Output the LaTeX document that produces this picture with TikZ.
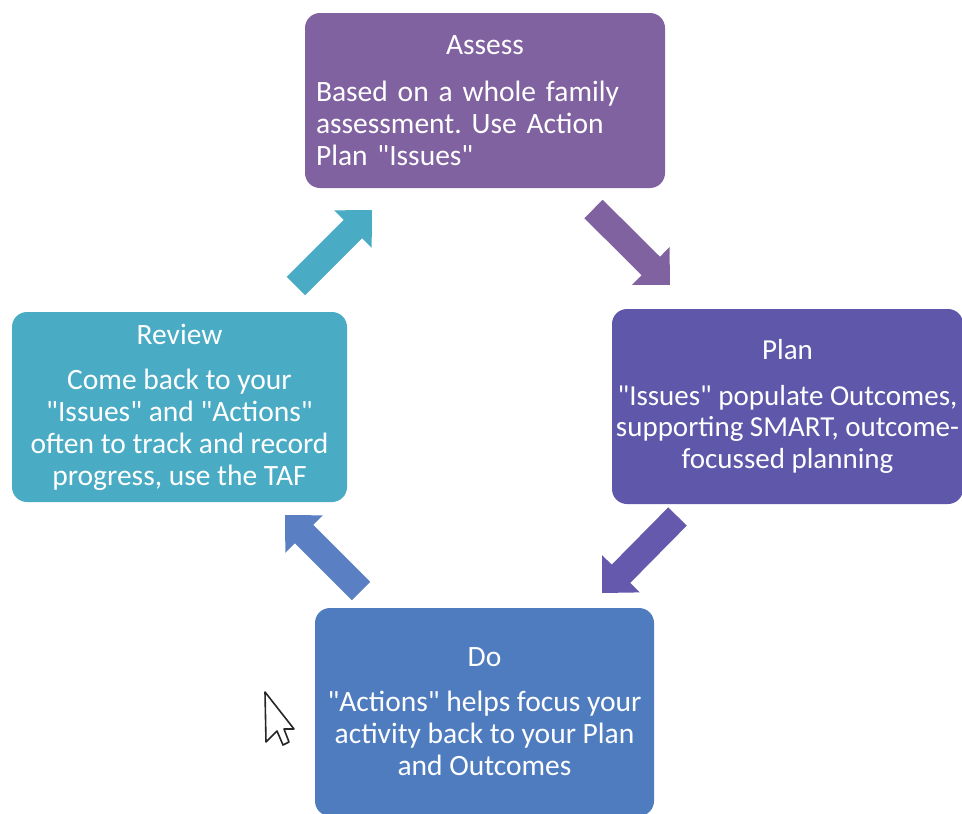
\documentclass[tikz,border=0pt]{standalone}
\usepackage{fontspec}
\setmainfont[Ligatures=TeXOff]{Carlito}
\usetikzlibrary{calc}
\frenchspacing
\definecolor{assesscol}{HTML}{8062A0}
\definecolor{plancol}{HTML}{5F58AA}
\definecolor{reviewcol}{HTML}{4AABC5}
\definecolor{docol}{HTML}{4F7CBE}
\definecolor{arrowtwo}{HTML}{6559AE}
\definecolor{arrowthree}{HTML}{5A7FC2}
\tikzset{
  stagebox/.style={rounded corners=15pt, inner xsep=2pt, inner ysep=4pt,
    text=white, align=center, font=\fontsize{29.5}{32}\selectfont},
}
\newcommand{\blockarrow}[3]{%
  \coordinate (#2h) at ($(#3)!27pt!(#2)$);
  \fill[#1] ($(#2)!13pt!90:(#3)$) -- ($(#2h)!13pt!90:(#3)$) -- ($(#2h)!26.5pt!90:(#3)$)
    -- (#3) -- ($(#2h)!26.5pt!-90:(#3)$) -- ($(#2h)!13pt!-90:(#3)$) -- ($(#2)!13pt!-90:(#3)$) -- cycle;
}
\begin{document}
\begin{tikzpicture}[x=1pt,y=-1pt]
\useasboundingbox (0,0) rectangle (962,814);
\clip (0,0) rectangle (962,814);
\fill[white] (0,0) rectangle (962,814);

% boxes
\node[stagebox, fill=assesscol, minimum width=360pt, minimum height=175pt,
      text width=338pt, align=left, inner xsep=11pt] (assess) at (485,100.5)
  {\centering Assess\par\vspace{15pt}\raggedright Based on a whole family\\ assessment. Use Action\\ Plan "Issues"};
\node[stagebox, fill=plancol, minimum width=351pt, minimum height=195pt,
      font=\fontsize{29}{31.5}\selectfont] (plan) at (787.5,406.5)
  {Plan\\[14pt] "Issues" populate Outcomes,\\ supporting SMART, outcome-\\ focussed planning};
\node[stagebox, fill=reviewcol, minimum width=335pt, minimum height=190pt] (review) at (179.5,407)
  {Review\\[13pt] Come back to your\\ "Issues" and "Actions"\\ often to track and record\\ progress, use the TAF};
\node[stagebox, fill=docol, minimum width=339pt, minimum height=208pt] (do) at (484.5,712)
  {Do\\[13pt] "Actions" helps focus your\\ activity back to your Plan\\ and Outcomes};

% block arrows
\coordinate (a1s) at (593.5,209);
\coordinate (a1e) at (670,285);
\coordinate (a2s) at (677.5,516.5);
\coordinate (a2e) at (602,593);
\coordinate (a3s) at (361,591);
\coordinate (a3e) at (285,515);
\coordinate (a4s) at (296,286);
\coordinate (a4e) at (372,210);
\blockarrow{assesscol}{a1s}{a1e}
\blockarrow{arrowtwo}{a2s}{a2e}
\blockarrow{arrowthree}{a3s}{a3e}
\blockarrow{reviewcol}{a4s}{a4e}

% mouse cursor
\draw[fill=white, draw=black!85, line width=1.6pt, line join=round]
  (265,692) -- (266,742) -- (277,731) -- (283,745) -- (289,742) -- (284,729) -- (294,729) -- cycle;
\end{tikzpicture}
\end{document}
